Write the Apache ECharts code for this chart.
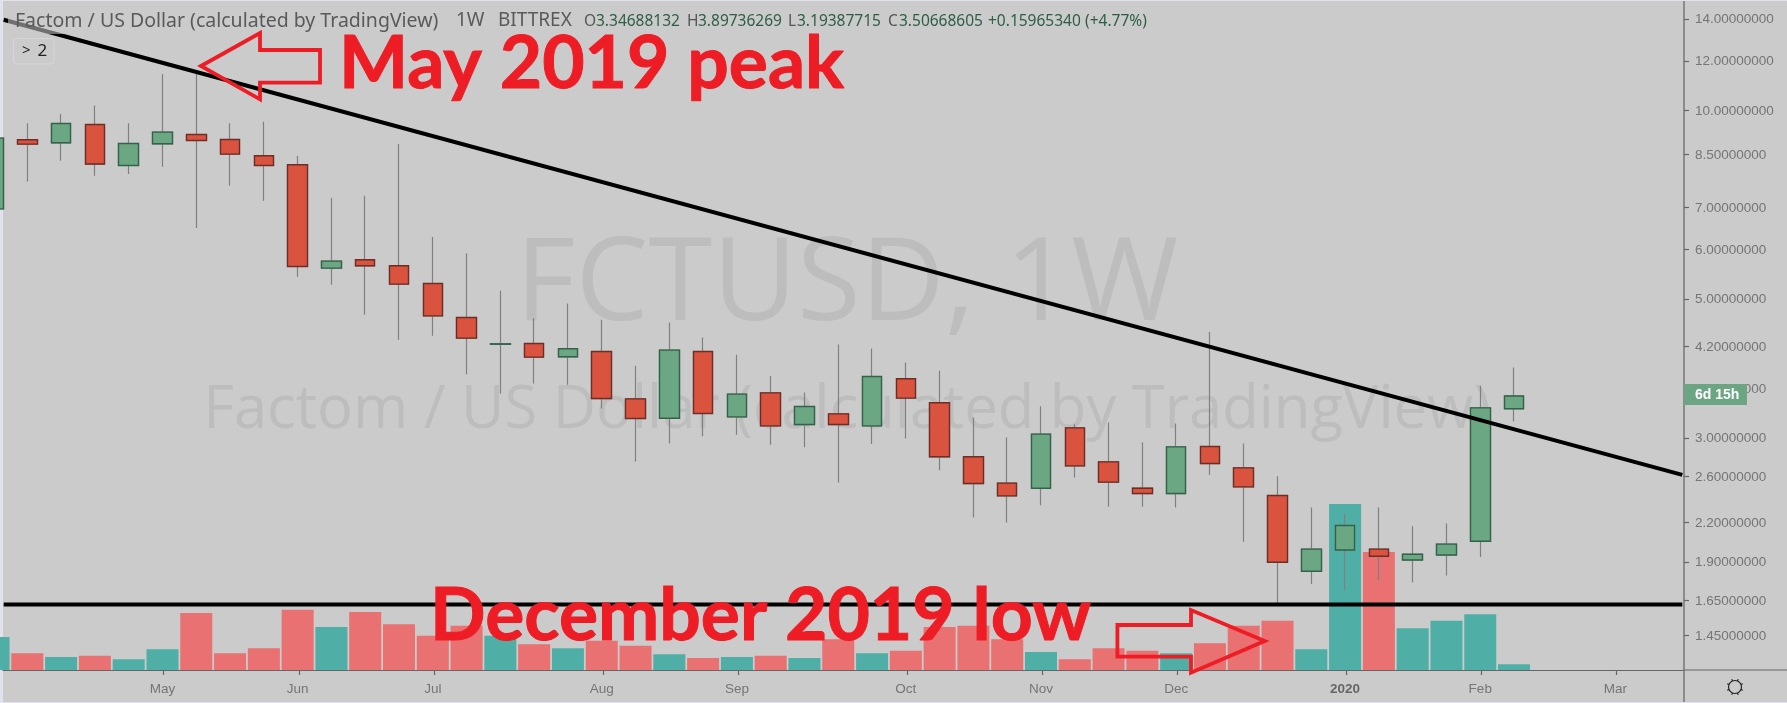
<!DOCTYPE html>
<html>
<head>
<meta charset="utf-8">
<style>html,body{margin:0;padding:0;background:#cbcbcb}#c{width:1787px;height:703px}</style>
<script src="https://cdn.jsdelivr.net/npm/echarts@6/dist/echarts.min.js"></script>
</head>
<body>
<div id="c"></div>
<script>
// weekly candles; first entry is the partly hidden week at the left edge (bar position -1)
const opens  = [6.983,9.002,8.903,9.522,8.189,8.871,9.179,9.012,8.488,8.211,5.615,5.789,5.663,5.305,4.681,4.244,4.255,4.052,4.131,3.471,3.233,4.131,3.249,3.549,3.158,3.285,3.143,3.737,3.421,2.805,2.546,2.499,3.120,2.753,2.499,2.450,2.913,2.693,2.432,1.841,1.991,1.997,1.919,1.955,2.056,3.347];
const closes = [9.058,8.861,9.558,8.233,8.880,9.261,8.979,8.540,8.189,5.648,5.761,5.663,5.294,4.711,4.340,4.250,4.047,4.173,3.475,3.229,4.153,3.289,3.532,3.143,3.374,3.158,3.768,3.481,2.805,2.542,2.429,3.049,2.713,2.555,2.450,2.909,2.736,2.511,1.903,1.997,2.178,1.946,1.960,2.034,3.358,3.507];
const lows   = [6.800,7.721,8.333,7.885,7.935,8.151,6.505,7.600,7.192,5.437,5.280,4.728,4.313,4.377,3.796,3.540,3.672,3.655,3.350,2.756,2.945,3.026,3.041,2.931,2.906,2.551,2.939,3.000,2.670,2.243,2.202,2.348,2.598,2.335,2.335,2.327,2.622,2.053,1.633,1.756,1.717,1.782,1.766,1.812,1.941,3.194];
const highs  = [9.300,9.571,9.894,10.212,9.571,11.464,11.464,9.571,9.618,8.488,7.264,7.326,8.861,6.293,5.925,5.165,4.671,4.929,4.642,3.920,4.596,4.349,4.081,3.774,3.553,4.239,4.177,3.968,3.848,3.241,3.011,3.379,3.163,3.181,2.956,3.170,4.442,2.945,2.612,2.327,2.276,2.327,2.173,2.194,3.641,3.897];
const volumes= [33,16.7,13,14.3,10.7,20.7,57,16.7,21.7,60.3,43,58,45.7,34.3,44.3,34.3,25.7,21.7,29.3,24.3,15.7,12,13,14.3,12,30.7,16.7,19.3,43,44.3,30.7,18,10.7,21.7,19.3,16.7,26.7,44.3,49.3,20.7,166,118,41.7,49.3,55.7,5.7];
const priceTicks = [14,12,10,8.5,7,6,5,4.2,3.6,3,2.6,2.2,1.9,1.65,1.45];
const monthTicks  = [4,8,12,17,21,26,30,34,39,43,47];
const monthLabels = ['May','Jun','Jul','Aug','Sep','Oct','Nov','Dec','2020','Feb','Mar'];
const trendLine = [[-0.70,14.0],[48.98,2.625]];
const lowLine   = [[-0.70,1.629],[48.98,1.629]];
const titleText = 'Factom / US Dollar (calculated by TradingView)';
const watermarkBig = 'FCTUSD, 1W';

const UP='#6ca784', DOWN='#d9533f', UPB='#33624a', DOWNB='#6e2d25', WICK='#808080';
const candles = opens.map((o,i)=>[i-1,o,closes[i],lows[i],highs[i]]);
const bodies  = opens.map((o,i)=>[i-1,o,closes[i],Math.min(o,closes[i]),Math.max(o,closes[i])]);
const bars = volumes.map((v,i)=>({value:[i-1,v],itemStyle:{color:closes[i]>=opens[i]?'#4fafa7':'#e97171'}}));

const FONT='"Noto Sans"', AX='"Liberation Sans"';
function txt(x,y,text,size,fill,opt){return Object.assign({type:'text',x:x,y:y,z:20,silent:true,
  style:{text:text,fontSize:size,fontFamily:FONT,fill:fill,textAlign:'left',textVerticalAlign:'middle'}},opt||{});}
function poly(points){return {type:'polygon',z:21,silent:true,shape:{points:points},
  style:{fill:'none',stroke:'#ee1c25',lineWidth:3.8}};}
function big(x,y,text){return {type:'text',x:x,y:y,z:22,silent:true,style:{text:text,fontSize:73.2,fontWeight:'bold',fontFamily:'Lato',
  fill:'#ee1c25',stroke:'#ee1c25',lineWidth:1,textAlign:'left',textVerticalAlign:'middle'}};}
function mark(y,text,size){return {type:'text',x:847,y:y,z:1,silent:true,style:{text:text,fontSize:size,fontFamily:'"Open Sans"',
  fill:'#bdbdbd',textAlign:'center',textVerticalAlign:'middle'}};}
const gfx=[
 {type:'rect',z:0,silent:true,shape:{x:0,y:0,width:3,height:703},style:{fill:'#e0e3eb'}},
 {type:'rect',z:0,silent:true,shape:{x:0,y:0,width:1787,height:1},style:{fill:'#e0e3eb'}},
 {type:'rect',z:0,silent:true,shape:{x:0,y:702,width:1787,height:1},style:{fill:'#e0e3eb'}},
 {type:'line',z:1,silent:true,shape:{x1:1684,y1:670,x2:1787,y2:670},style:{stroke:'#666',lineWidth:1.2}},
 {type:'line',z:1,silent:true,shape:{x1:1684,y1:1,x2:1684,y2:702},style:{stroke:'#707070',lineWidth:1.4}},
 mark(287,watermarkBig,116),
 mark(411,titleText,59.7),
 {type:'rect',z:8,silent:true,shape:{x:8,y:9,width:60,height:25},style:{fill:'rgba(204,204,204,0.55)'}},
 txt(15,21,titleText,19.5,'#5a5a5a'),
 txt(456,21,'1W',19,'#5a5a5a'),
 txt(498,21,'BITTREX',19,'#5a5a5a'),
 txt(584,22,'O',15.5,'#555'),txt(596,22,'3.34688132',15.5,'#2e5f46'),
 txt(687,22,'H',15.5,'#555'),txt(698,22,'3.89736269',15.5,'#2e5f46'),
 txt(788,22,'L',15.5,'#555'),txt(797,22,'3.19387715',15.5,'#2e5f46'),
 txt(888,22,'C',15.5,'#555'),txt(899,22,'3.50668605',15.5,'#2e5f46'),
 txt(988,22,'+0.15965340',15.5,'#2e5f46'),
 txt(1085,22,'(+4.77%)',15.5,'#2e5f46'),
 {type:'rect',z:20,silent:true,shape:{x:13.5,y:38.5,width:40.5,height:25.5,r:3},style:{fill:'none',stroke:'#d4d6de',lineWidth:1}},
 txt(22,51,'>',15,'#222'),
 txt(37.5,51,'2',17,'#222'),
 poly([[201,66],[260,33],[260,50],[320,50],[320,82.7],[260,82.7],[260,99.3]]),
 poly([[1117.4,625],[1191,625],[1191,610],[1264.7,641],[1191,672.7],[1191,656.7],[1117.4,656.7]]),
 big(339,64,'May 2019 peak'),
 big(430,616,'December 2019 low'),
 {type:'rect',z:20,silent:true,shape:{x:1684,y:384,width:63,height:21},style:{fill:'#6ba583'}},
 {type:'text',x:1695,y:395,z:21,silent:true,style:{text:'6d 15h',fontSize:14,fontWeight:'bold',fontFamily:AX,fill:'#fff',textAlign:'left',textVerticalAlign:'middle'}},
 {type:'circle',z:20,silent:true,shape:{cx:1735,cy:687,r:6.5},style:{fill:'none',stroke:'#222',lineWidth:1.2}}
];
for(let a=0;a<8;a++){const t=a*Math.PI/4+Math.PI/8;gfx.push({type:'line',z:20,silent:true,
  shape:{x1:1735+6.5*Math.cos(t),y1:687+6.5*Math.sin(t),x2:1735+8.5*Math.cos(t),y2:687+8.5*Math.sin(t)},style:{stroke:'#222',lineWidth:1.1}});}

const chart=echarts.init(document.getElementById('c'),null,{renderer:'canvas'});
chart.setOption({
 animation:false,
 backgroundColor:'#cbcbcb',
 grid:{left:3,right:103,top:1,bottom:33,containLabel:false},
 xAxis:{type:'value',min:-0.72,max:49.03,splitLine:{show:false},
  axisLine:{show:true,onZero:false,lineStyle:{color:'#666',width:1.2}},
  axisTick:{show:false},
  axisLabel:{customValues:monthTicks,margin:12,fontFamily:AX,fontSize:13.5,color:'#757575',
    formatter:v=>{const s=monthLabels[monthTicks.indexOf(v)]||'';return s==='2020'?'{b|2020}':s;},
    rich:{b:{fontWeight:'bold',fontFamily:AX,fontSize:13.5,color:'#666'}}}},
 yAxis:[
  {type:'log',position:'right',min:1.2803,max:14.999,splitLine:{show:false},minorTick:{show:false},
   axisLine:{show:false,onZero:false},
   axisTick:{show:false},
   axisLabel:{customValues:priceTicks,margin:11,padding:[2,0,0,0],fontFamily:AX,fontSize:13.5,color:'#757575',formatter:v=>(+v).toFixed(8)}},
  {type:'value',min:0,max:669,show:false,axisLine:{onZero:false}}
 ],
 graphic:{elements:gfx},
 series:[
  {type:'bar',name:'Volume',yAxisIndex:1,data:bars,barWidth:32,z:2,silent:true},
  {type:'candlestick',name:'Wicks',data:candles,barWidth:20,z:3,silent:true,
   itemStyle:{color:UP,color0:DOWN,borderColor:WICK,borderColor0:WICK,borderWidth:1.2}},
  {type:'candlestick',name:'FCTUSD',data:bodies,barWidth:20,z:4,silent:true,
   itemStyle:{color:UP,color0:DOWN,borderColor:UPB,borderColor0:DOWNB,borderWidth:1.4}},
  {type:'line',name:'Downtrend',data:trendLine,symbol:'none',z:5,silent:true,lineStyle:{color:'#000',width:4}},
  {type:'line',name:'December low',data:lowLine,symbol:'none',z:5,silent:true,lineStyle:{color:'#000',width:4}}
 ]
});
// tick marks placed through the axes' own scales
priceTicks.forEach(v=>{const y=Math.round(chart.convertToPixel({yAxisIndex:0},v))-0.5;
  gfx.push({type:'line',z:10,silent:true,shape:{x1:1684,y1:y,x2:1689,y2:y},style:{stroke:'#666',lineWidth:1.2}});});
monthTicks.forEach(v=>{const x=Math.round(chart.convertToPixel({xAxisIndex:0},v))+1.5;
  gfx.push({type:'line',z:10,silent:true,shape:{x1:x,y1:670,x2:x,y2:675},style:{stroke:'#666',lineWidth:1.2}});});
chart.setOption({graphic:{elements:gfx}});
</script>
</body>
</html>
